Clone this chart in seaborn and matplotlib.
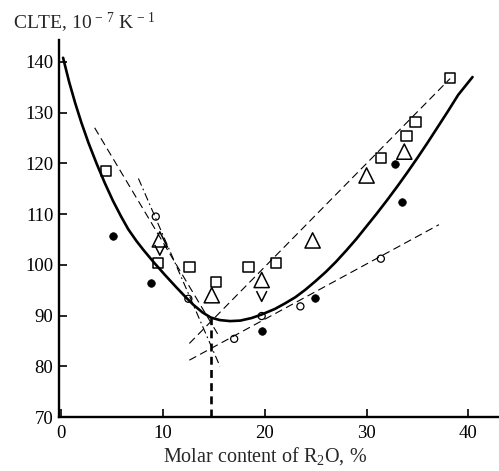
import numpy as np
import pandas as pd
import matplotlib
matplotlib.use("Agg")
import matplotlib.pyplot as plt
from matplotlib.path import Path
import seaborn as sns

# ---- data ----
sq_x = [4.4, 9.5, 12.6, 15.2, 18.4, 21.1, 31.4, 33.9, 34.8, 38.2]
sq_y = [118.5, 100.4, 99.6, 96.6, 99.6, 100.3, 121.1, 125.4, 128.1, 136.8]

tri_up_x = [9.7, 14.8, 19.7, 24.7, 30.0, 33.7]
tri_up_y = [105.0, 94.0, 97.0, 104.8, 117.6, 122.3]

tri_dn_x = [9.7, 19.7]
tri_dn_y = [102.9, 93.8]

fill_x = [5.1, 8.8, 19.7, 24.9, 32.8, 33.5]
fill_y = [105.6, 96.5, 86.9, 93.4, 119.8, 112.3]

open_x = [9.3, 12.5, 17.0, 19.7, 23.5, 31.4]
open_y = [109.5, 93.3, 85.4, 89.9, 91.8, 101.2]

curve_x = [0.2, 0.8, 1.4, 2.0, 2.7, 3.5, 4.3, 5.1, 5.9, 6.6, 7.4, 8.1, 9.1,
           10.2, 11.3, 12.2, 13.0, 13.9, 14.7, 15.6, 16.6, 17.6, 18.7, 19.7,
           21.0, 22.0, 23.0, 24.0, 25.0, 26.0, 27.0, 28.0, 29.0, 30.0, 31.0,
           32.0, 33.0, 34.0, 35.0, 36.0, 37.0, 38.0, 39.0, 40.4]
curve_y = [140.8, 136.0, 131.8, 128.0, 124.0, 119.9, 116.1, 112.6, 109.5,
           107.0, 104.7, 102.9, 100.5, 98.0, 95.6, 93.7, 92.1, 90.6, 89.6,
           89.1, 88.9, 89.0, 89.5, 90.2, 91.3, 92.4, 93.6, 95.1, 96.8, 98.6,
           100.6, 102.8, 105.1, 107.6, 110.1, 112.7, 115.4, 118.2, 121.1,
           124.1, 127.2, 130.3, 133.5, 137.0]

lineA_x = [3.3, 15.4]   # long dashed, descending
lineA_y = [127.0, 86.3]
lineB_x = [7.6, 15.6]   # dash-dot, descending
lineB_y = [117.0, 80.0]
lineC_x = [12.6, 38.2]  # upper ascending dashed
lineC_y = [84.5, 136.7]
lineD_x = [12.6, 37.1]  # lower ascending dashed
lineD_y = [81.2, 107.9]
vert_x = [14.7, 14.7]
vert_y = [70.0, 89.5]

x_ticks = [0, 10, 20, 30, 40]
y_ticks = [70, 80, 90, 100, 110, 120, 130, 140]
y_label = "CLTE, 10$^{\\,-\\,7}$ K$^{\\,-\\,1}$"
x_label = "Molar content of R$_2$O, %"

# ---- style ----
sns.set_style("ticks")
plt.rcParams["font.family"] = ["Liberation Serif", "DejaVu Serif"]
plt.rcParams["mathtext.fontset"] = "custom"
plt.rcParams["mathtext.rm"] = "Liberation Serif"
plt.rcParams["mathtext.it"] = "Liberation Serif:italic"

fig = plt.figure(figsize=(4.99, 4.71), dpi=100)
ax = fig.add_axes([59 / 499, 1 - 417 / 471, 1 - 59 / 499, (417 - 40) / 471])

# curve and lines
sns.lineplot(x=curve_x, y=curve_y, ax=ax, color="black", linewidth=1.9,
             sort=False, estimator=None)
for lx, ly, ls in [(lineA_x, lineA_y, (0, (7, 4))),
                   (lineB_x, lineB_y, (0, (7, 3, 1.5, 3))),
                   (lineC_x, lineC_y, (0, (7, 4))),
                   (lineD_x, lineD_y, (0, (7, 4)))]:
    sns.lineplot(x=lx, y=ly, ax=ax, color="black", linewidth=0.8,
                 linestyle=ls, sort=False, estimator=None)
sns.lineplot(x=vert_x, y=vert_y, ax=ax, color="black", linewidth=1.9,
             linestyle=(0, (3, 2)), sort=False, estimator=None)

# markers
vmark = Path([(-0.5, 0.5), (0.0, -0.5), (0.5, 0.5)])
sns.scatterplot(x=sq_x, y=sq_y, ax=ax, marker="s", s=56, facecolor="none",
                edgecolor="black", linewidth=1.1, zorder=5)
sns.scatterplot(x=tri_up_x, y=tri_up_y, ax=ax, marker="^", s=120,
                facecolor="none", edgecolor="black", linewidth=1.1, zorder=5)
sns.scatterplot(x=tri_dn_x, y=tri_dn_y, ax=ax, marker=vmark, s=55,
                facecolor="none", edgecolor="black", linewidth=1.1, zorder=5)
sns.scatterplot(x=fill_x, y=fill_y, ax=ax, marker="o", s=30, color="black",
                edgecolor="black", linewidth=0.5, zorder=5)
sns.scatterplot(x=open_x, y=open_y, ax=ax, marker="o", s=26, facecolor="none",
                edgecolor="black", linewidth=0.9, zorder=5)

ax.set_xlim(-0.2, 43.0)
ax.set_ylim(70, 144.3)
ax.set_xticks(x_ticks)
ax.set_yticks(y_ticks)
ax.set_xticklabels([str(v) for v in x_ticks])
ax.set_yticklabels([str(v) for v in y_ticks])
ax.tick_params(direction="in", length=6, width=1.2, labelsize=13.5,
               colors="black", pad=4)
ax.tick_params(axis="x", pad=6)
sns.despine(ax=ax)
for sp in ["left", "bottom"]:
    ax.spines[sp].set_linewidth(1.7)
    ax.spines[sp].set_color("black")
ax.set_xlabel("")
ax.set_ylabel("")

fig.text(13 / 499, 1 - 29 / 471, y_label, fontsize=14, ha="left",
         va="baseline")
fig.text(265 / 499, 1 - 462 / 471, x_label, fontsize=14.5, ha="center",
         va="baseline")

fig.savefig("out.png", dpi=100)
